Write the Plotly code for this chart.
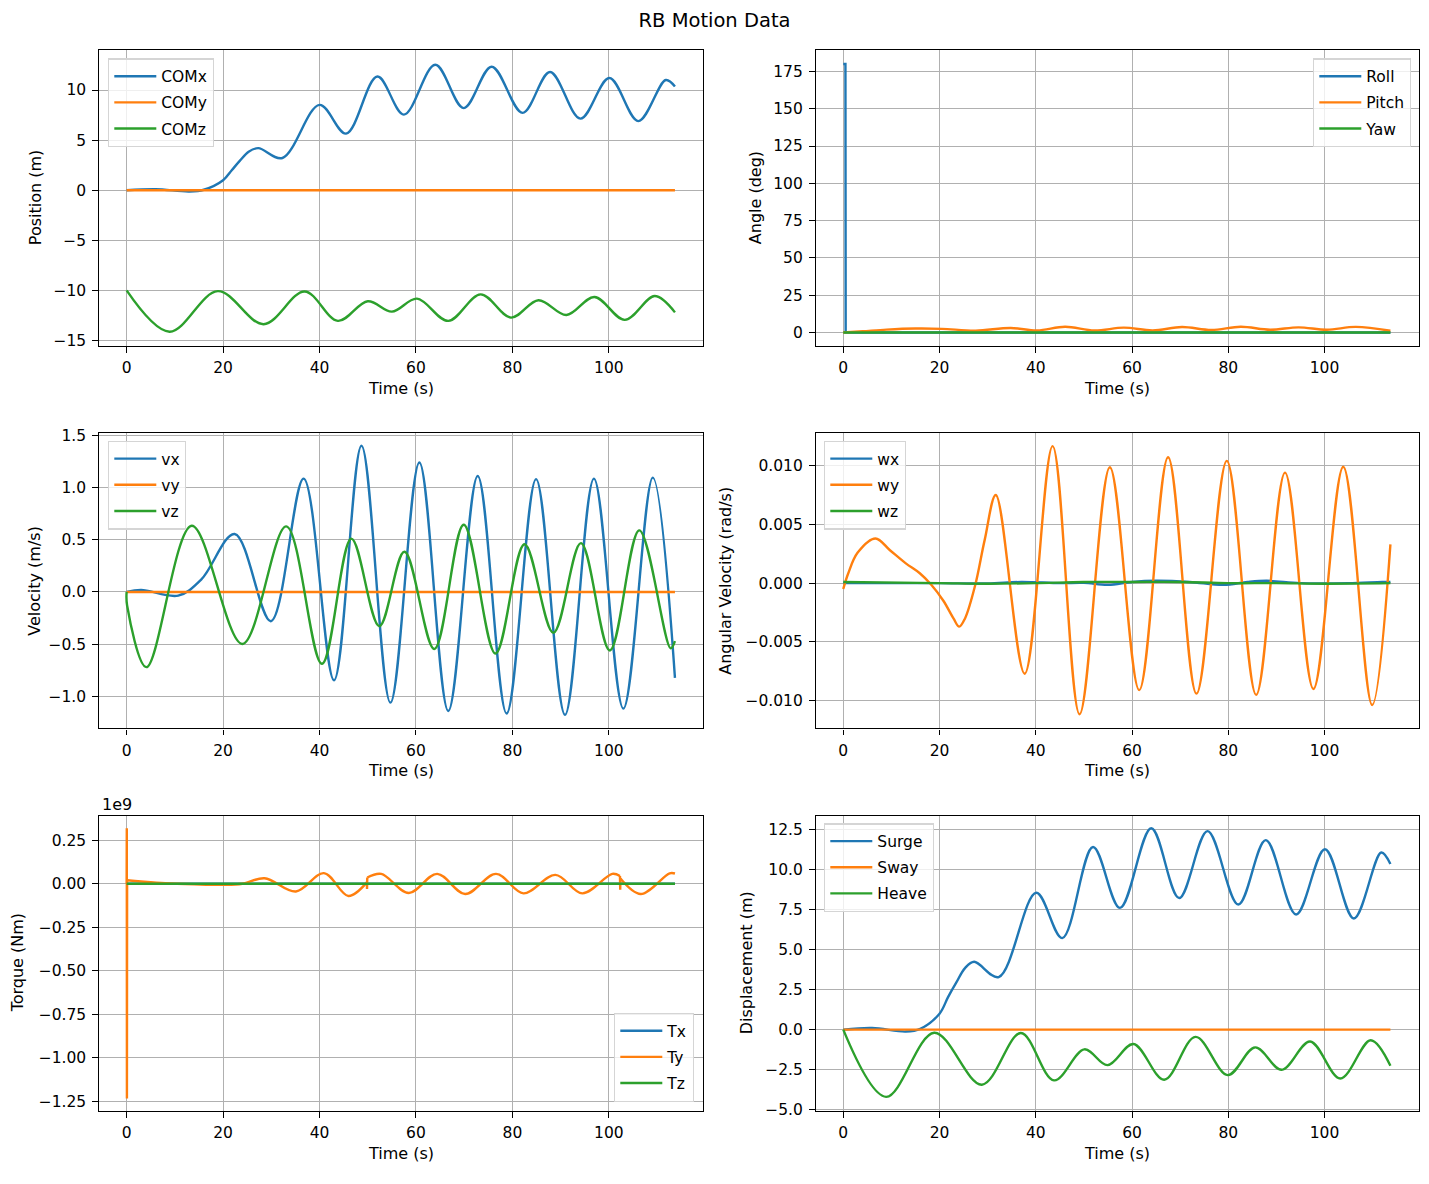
import plotly.graph_objects as go

W, H = 1429, 1184
BLUE, ORANGE, GREEN = "#1f77b4", "#ff7f0e", "#2ca02c"
FONT = "DejaVu Sans"
LW = 2.4

T_END = 113.7
x_range = [-5.73, 119.6]
x_ticks = [0, 20, 40, 60, 80, 100]

# ---- position (m)
comx_t = [0, 6, 13, 16, 20, 21.8, 23.5, 25.3, 27.3, 32.3, 40.0, 45.5, 52.0, 57.5, 64.0,
          69.9, 75.7, 82.1, 87.8, 94.1, 100.1, 106.1, 111.8, 113.7]
comx = [0, 0.1, -0.12, 0.05, 1.0, 2.0, 2.95, 3.85, 4.2, 3.22, 8.52, 5.65, 11.35, 7.55, 12.52,
        8.2, 12.33, 7.72, 11.8, 7.15, 11.2, 6.9, 11.0, 10.35]
comy_t = [0, T_END]
comy = [0, 0]
comz_t = [0, 8.9, 18.9, 28.4, 36.9, 43.8, 50.0, 55.0, 60.2, 66.7, 73.4, 79.7, 85.4, 91.2,
          97.0, 103.3, 109.5, 113.7]
comz = [-10, -14.12, -10.07, -13.37, -10.1, -13.04, -11.08, -12.12, -10.82, -13.04, -10.39,
        -12.71, -10.98, -12.45, -10.65, -12.94, -10.56, -12.19]

# ---- angle (deg)
roll_t = [0, 0.45, 0.5, T_END]
roll = [180, 180, 0, 0]
pitch_t = [0, 4, 9, 15, 20.5, 27.5, 34.8, 40.3, 46.1, 52.2, 58.3, 64.3, 70.4, 76.5, 82.6,
           88.7, 94.6, 100.5, 106.5, 113.7]
pitch = [0, 0.8, 1.9, 2.6, 2.4, 1.2, 3.0, 1.3, 3.8, 1.3, 3.2, 1.4, 3.6, 1.6, 3.8, 1.8, 3.4,
         1.8, 3.7, 1.1]
yaw_t = [0, T_END]
yaw = [0, 0]

# ---- velocity (m/s)
vx_t = [0, 3, 10.7, 15.5, 22.4, 29.9, 36.7, 43.0, 48.7, 54.7, 60.7, 66.7, 72.8, 78.8, 84.9,
        90.9, 96.9, 103.0, 109.1, 113.7]
vx = [0, 0.02, -0.035, 0.12, 0.555, -0.28, 1.085, -0.845, 1.40, -1.06, 1.24, -1.14, 1.11,
      -1.164, 1.08, -1.177, 1.085, -1.117, 1.095, -0.823]
vy_t = [0, T_END]
vy = [0, 0]
vz_t = [0, 0.1, 4.1, 13.5, 24.0, 33.1, 40.5, 46.6, 52.4, 57.6, 63.8, 69.9, 76.5, 82.5, 88.5,
        94.2, 100.2, 106.3, 112.8, 113.7]
vz = [0, -0.13, -0.72, 0.634, -0.498, 0.628, -0.688, 0.511, -0.328, 0.385, -0.546, 0.644,
      -0.59, 0.457, -0.391, 0.467, -0.561, 0.59, -0.54, -0.47]

# ---- angular velocity (rad/s)
wx_t = [0, 20, 30, 37, 45, 50, 55, 60, 65, 72, 79, 84, 88, 95, 105, 112, 113.7]
wx = [0, 0, -0.00003, 0.0001, 0, 0.00002, -0.00015, 0.0001, 0.0002, 0.0001, -0.00015,
      0.0001, 0.0002, 0.0, 0.0, 0.0001, 0.0001]
wy_t = [0, 1, 3, 6.7, 9.7, 13, 15.9, 18.2, 20.8, 22.9, 24.1, 25.3, 27.4, 29.4, 31.7, 37.7,
        43.5, 49.1, 55.4, 61.5, 67.5, 73.4, 79.7, 85.8, 91.8, 97.7, 103.9, 109.9, 113.7]
wy = [-0.0005, 0.0008, 0.0026, 0.0038, 0.0028, 0.00168, 0.00084, -0.0001, -0.0015, -0.003,
      -0.0037, -0.003, -0.0002, 0.0037, 0.0075, -0.0077, 0.01165, -0.01115, 0.00986, -0.0091,
      0.0107, -0.0094, 0.0104, -0.0095, 0.0094, -0.009, 0.0099, -0.01036, 0.0033]
wz_t = [0, 20, 30, 40, 50, 60, 70, 80, 90, 100, 113.7]
wz = [0.0001, 0, -0.00005, 0, 0.0001, 0.0001, 0.0001, 0.0, 0.0, -0.00005, 0]

# ---- torque (1e9 Nm)
tx_t = [0, T_END]
tx = [0, 0]
# smooth part of Ty, three pieces split by the glitches
ty_t = [0.1, 3, 8, 14, 20, 24, 28.6, 35.1, 40.9, 46.0, 49.8, None,
        49.9, 52.8, 58.5, 64.4, 70.2, 76.6, 82.3, 88.9, 94.5, 100.7, 102.3, None,
        102.4, 106.6, 112.6, 113.7]
ty = [0.02, 0.013, 0.003, -0.003, -0.006, 0.0, 0.032, -0.044, 0.061, -0.070, 0.008, None,
      0.036, 0.057, -0.053, 0.057, -0.059, 0.057, -0.055, 0.051, -0.055, 0.057, 0.045, None,
      0.03, -0.059, 0.06, 0.059]
# sharp parts of Ty: start spike and two glitches
ty_spike_t = [0, 0.03, 0.06, 0.1, None, 49.8, 49.85, 49.9, None, 102.3, 102.35, 102.4]
ty_spike = [0, 0.32, -1.235, 0.02, None, 0.008, -0.03, 0.036, None, 0.045, -0.034, 0.03]
tz_t = [0, T_END]
tz = [0, 0]

# ---- displacement (m)
surge_t = [0, 6, 13, 16, 20, 21.8, 23.5, 25.3, 27.2, 32.3, 40.1, 45.5, 51.9, 57.5, 64.0,
           69.8, 75.7, 82.1, 87.8, 94.1, 100.1, 106.1, 111.8, 113.7]
surge = [0, 0.1, -0.12, 0.05, 1.0, 2.05, 2.95, 3.85, 4.24, 3.29, 8.56, 5.72, 11.42, 7.61,
         12.59, 8.23, 12.41, 7.82, 11.85, 7.2, 11.28, 6.95, 11.07, 10.35]
sway_t = [0, T_END]
sway = [0, 0]
heave_t = [0, 8.9, 18.9, 28.8, 36.9, 43.8, 50.1, 54.9, 60.3, 66.7, 73.2, 79.9, 85.6, 91.1,
           97.0, 103.3, 109.6, 113.7]
heave = [0, -4.2, -0.19, -3.44, -0.21, -3.17, -1.23, -2.22, -0.9, -3.13, -0.45, -2.84,
         -1.11, -2.51, -0.74, -3.05, -0.66, -2.26]

fig = go.Figure()


def add(n, x, y, name, color, smooth, legend=True, group=None):
    fig.add_trace(go.Scatter(
        x=x, y=y, name=name, mode="lines",
        line=dict(color=color, width=LW, shape="spline" if smooth else "linear"),
        xaxis="x" if n == 1 else f"x{n}", yaxis="y" if n == 1 else f"y{n}",
        legend="legend" if n == 1 else f"legend{n}",
        legendgroup=group or name, showlegend=legend, connectgaps=False,
    ))


add(1, comx_t, comx, "COMx", BLUE, True)
add(1, comy_t, comy, "COMy", ORANGE, False)
add(1, comz_t, comz, "COMz", GREEN, True)
add(2, roll_t, roll, "Roll", BLUE, False)
add(2, pitch_t, pitch, "Pitch", ORANGE, True)
add(2, yaw_t, yaw, "Yaw", GREEN, False)
add(3, vx_t, vx, "vx", BLUE, True)
add(3, vy_t, vy, "vy", ORANGE, False)
add(3, vz_t, vz, "vz", GREEN, True)
add(4, wx_t, wx, "wx", BLUE, True)
add(4, wy_t, wy, "wy", ORANGE, True)
add(4, wz_t, wz, "wz", GREEN, True)
add(5, tx_t, tx, "Tx", BLUE, False)
add(5, ty_spike_t, ty_spike, "Ty", ORANGE, False)
add(5, ty_t, ty, "Ty", ORANGE, True, legend=False)
add(5, tz_t, tz, "Tz", GREEN, False)
add(6, surge_t, surge, "Surge", BLUE, True)
add(6, sway_t, sway, "Sway", ORANGE, False)
add(6, heave_t, heave, "Heave", GREEN, True)

# panel frames in pixels (left, right, top, bottom)
cols = [(99, 703.4), (815.7, 1418.8)]
rows = [(45, 344), (432.3, 731), (819.3, 1118.3)]

panels = [
    # y range, dtick, format, y label, label x (px)
    ([-15.54, 13.95], 5, "d", "Position (m)", 35),
    ([-9.06, 189.1], 25, "d", "Angle (deg)", 755),
    ([-1.306, 1.52], 0.5, ".1f", "Velocity (m/s)", 35),
    ([-0.01235, 0.01275], 0.005, ".3f", "Angular Velocity (rad/s)", 726),
    ([-1.307, 0.392], 0.25, ".2f", "Torque (Nm)", 17),
    ([-5.09, 13.38], 2.5, ".1f", "Displacement (m)", 746),
]

common = dict(
    showline=True, mirror=True, linecolor="black", linewidth=1.3,
    showgrid=True, gridcolor="#b0b0b0", gridwidth=1.3, zeroline=False,
    ticks="outside", ticklen=5.6, tickwidth=1.3, tickcolor="black",
    tickfont=dict(family=FONT, size=15.5, color="black"),
)

annotations = []
layout = {}
for i, (yr, dt, fmt, ylab, lab_x) in enumerate(panels):
    n = i + 1
    cl, cr = cols[i % 2]
    rt, rb = rows[i // 2]
    xs = "" if n == 1 else str(n)
    layout[f"xaxis{xs}"] = dict(
        common, domain=[cl / W, cr / W], range=x_range, tickvals=x_ticks,
        anchor=f"y{xs}", ticklabelstandoff=2,
    )
    layout[f"yaxis{xs}"] = dict(
        common, domain=[1 - rb / H, 1 - rt / H], range=yr, dtick=dt, tick0=0,
        tickformat=fmt, anchor=f"x{xs}", ticklabelstandoff=3,
    )
    annotations.append(dict(
        text="Time (s)", x=(cl + cr) / 2 / W, y=1 - (rb + 43) / H,
        xref="paper", yref="paper", showarrow=False, xanchor="center", yanchor="middle",
        font=dict(family=FONT, size=16, color="black"),
    ))
    annotations.append(dict(
        text=ylab, x=lab_x / W, y=1 - (rt + rb) / 2 / H, textangle=-90,
        xref="paper", yref="paper", showarrow=False, xanchor="center", yanchor="middle",
        font=dict(family=FONT, size=16, color="black"),
    ))

annotations.append(dict(
    text="1e9", x=100 / W, y=1 - 808.5 / H, xref="paper", yref="paper", showarrow=False,
    xanchor="left", yanchor="middle", font=dict(family=FONT, size=16, color="black"),
))

legend_pos = [
    (108, 53, "left", "top"),
    (1411, 53, "right", "top"),
    (108, 440, "left", "top"),
    (824, 440, "left", "top"),
    (694, 1109, "right", "bottom"),
    (824, 827, "left", "top"),
]
for i, (lx, ly, xa, ya) in enumerate(legend_pos):
    key = "legend" if i == 0 else f"legend{i + 1}"
    layout[key] = dict(
        x=lx / W, y=1 - ly / H, xanchor=xa, yanchor=ya, xref="paper", yref="paper",
        bgcolor="rgba(255,255,255,0.8)", bordercolor="#d5d5d5", borderwidth=1.3,
        font=dict(family=FONT, size=15.5, color="black"), tracegroupgap=3,
        traceorder="grouped", itemwidth=42,
    )

fig.update_layout(
    width=W, height=H, margin=dict(l=0, r=0, t=0, b=0),
    paper_bgcolor="white", plot_bgcolor="white",
    font=dict(family=FONT, size=15.5, color="black"),
    title=dict(text="RB Motion Data", x=0.5, y=1 - 20 / H, xanchor="center",
               yanchor="middle", font=dict(family=FONT, size=19.5, color="black")),
    annotations=annotations,
    showlegend=True,
    **layout,
)

fig.write_html("out.html", config={"displayModeBar": False},
               post_script="document.body.style.margin='0px';")
